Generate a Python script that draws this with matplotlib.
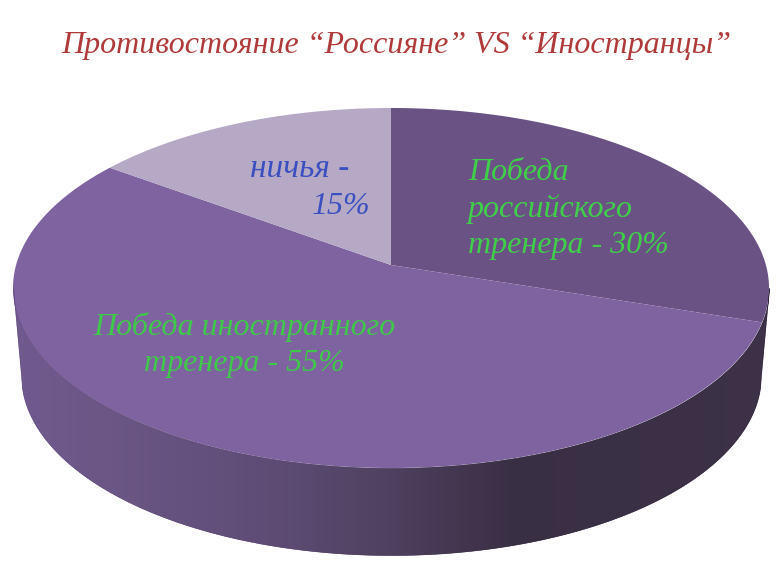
#!/usr/bin/env python

import matplotlib
matplotlib.use("Agg")
import matplotlib.pyplot as plt
import numpy as np
from matplotlib.colors import LinearSegmentedColormap
from matplotlib.patches import PathPatch
from matplotlib.path import Path

title = "Противостояние “Россияне” VS “Иностранцы”"
shares = [30, 55, 15]
slice_colors = ["#6b5285", "#7f63a0", "#b5a9c5"]
label_a = "Победа\nроссийского\nтренера - 30%"
label_b = "Победа иностранного\nтренера - 55%"
label_c = ["ничья -", "15%"]

W, H = 781, 576
SQUASH = 0.476  # vertical flattening of the pie


def py(y):
    """pixel row to data y"""
    return (H - y) / SQUASH


def half_ellipse_low(x, cx, cy, rx, ry):
    """lower edge of an ellipse, in data y"""
    u = np.clip((x - cx) / rx, -1, 1)
    return py(cy) - ry / SQUASH * np.sqrt(1 - u ** 2)


fig = plt.figure(figsize=(W / 100, H / 100), dpi=100)
ax = fig.add_axes([0, 0, 1, 1])

# top face: wedges meet at the apex, white mask trims them to the ellipse
wedges, _ = ax.pie(
    shares,
    colors=slice_colors,
    startangle=90,
    counterclock=False,
    center=(391, py(265)),
    radius=1400,
    frame=True,
)
ax.set_aspect("auto")
ax.set_xlim(0, W)
ax.set_ylim(0, H / SQUASH)
ax.axis("off")

t = np.linspace(0, -2 * np.pi, 720)
rim_x = 391 + 378 * np.cos(t)
rim_y = py(288) + 180 / SQUASH * np.sin(t)
top = H / SQUASH
outer = [[-5, -5], [W + 5, -5], [W + 5, top + 5], [-5, top + 5], [-5, -5]]
verts = np.vstack([outer, np.column_stack([rim_x, rim_y])])
codes = [Path.MOVETO] + [Path.LINETO] * 3 + [Path.CLOSEPOLY] + [Path.MOVETO] + [Path.LINETO] * 719
ax.add_patch(PathPatch(Path(verts, codes), fc="white", ec="none", zorder=3))

# side wall, one thin strip per pixel column, shaded by x
shade = LinearSegmentedColormap.from_list(
    "wall",
    [(0, "#6a5288"), (0.12, "#644e80"), (0.35, "#56436e"), (0.5, "#463757"), (0.66, "#30253c"), (1, "#33273f")],
)
edges = np.arange(13, 770)
wall_top = half_ellipse_low(edges, 391, 288, 378, 180)
wall_low = half_ellipse_low(edges, 391, 375, 370, 180)
wall_low = np.where(edges < 21, np.interp(edges, [13, 21], [py(288), py(375)]), wall_low)
wall_low = np.where(edges > 761, np.interp(edges, [761, 769], [py(375), py(288)]), wall_low)
for i in range(len(edges) - 1):
    c = shade((edges[i] - 13) / 756)
    ax.fill_between(edges[i:i + 2], wall_top[i:i + 2], wall_low[i:i + 2], color=c, lw=0.4, zorder=4)
ax.set_xlim(0, W)
ax.set_ylim(0, top)

font = {"family": "Liberation Serif", "style": "italic"}
ax.text(396, py(45), title, color="#b03a3a", fontsize=23, ha="center", va="center", zorder=5, **font)
ax.text(468, py(209), label_a, color="#3fd04a", fontsize=23, ha="left", va="center", linespacing=1.3, zorder=5, **font)
ax.text(244, py(345), label_b, color="#3fc94a", fontsize=23, ha="center", va="center", linespacing=1.3, zorder=5, **font)
ax.text(300, py(169), label_c[0], color="#3a4fc0", fontsize=24, ha="center", va="center", zorder=5, **font)
ax.text(370, py(206), label_c[1], color="#3a4fc0", fontsize=23, ha="right", va="center", zorder=5, **font)

fig.savefig("out.png", dpi=100)
